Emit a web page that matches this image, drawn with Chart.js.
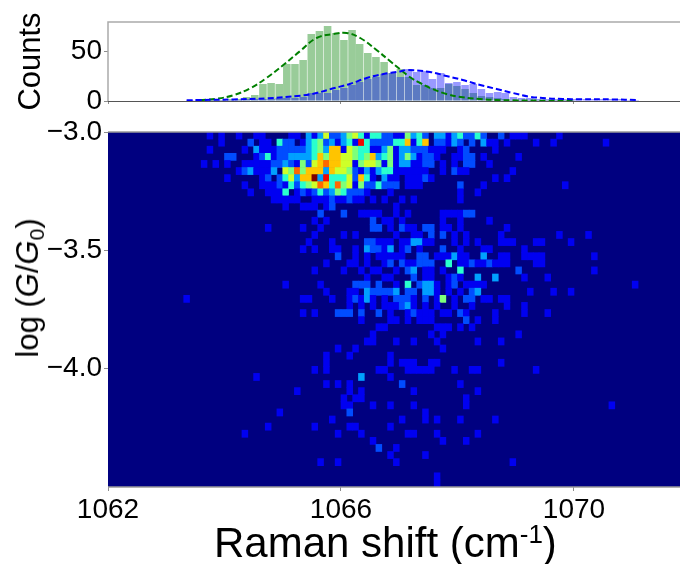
<!DOCTYPE html>
<html>
<head>
<meta charset="utf-8">
<script src="https://cdn.jsdelivr.net/npm/chart.js@4"></script>
<style>
html, body { margin: 0; padding: 0; background: #fff; }
#wrap { position: relative; width: 680px; height: 564px; overflow: hidden; font-family: "Liberation Sans", Arial, sans-serif; color: #000; }
canvas { position: absolute; left: 0; }
#xTitle { position: absolute; left: 214px; top: 519px; font-size: 42px; line-height: 47px; white-space: nowrap; }
#xTitle sup { font-size: 26px; line-height: 0; vertical-align: 14px; }
#yTitle { position: absolute; left: 28px; top: 288px; font-size: 31px; line-height: 36px; white-space: nowrap; transform: translate(-50%, -50%) rotate(-90deg); }
#yTitle sub { font-size: 21px; line-height: 0; vertical-align: -6px; }
</style>
</head>
<body>
<div id="wrap">
	<canvas id="histChart" width="680" height="130" style="top:0"></canvas>
	<canvas id="heatChart" width="680" height="464" style="top:100px"></canvas>
	<div id="yTitle">log (<i>G</i>/<i>G</i><sub>0</sub>)</div>
	<div id="xTitle">Raman shift (cm<sup>-1</sup>)</div>
</div>
<script>
// axis ticks
const xTicks = [1062, 1066, 1070];
const xTickLabels = ['1062', '1066', '1070'];
const countTicks = [0, 50];
const logTicks = [-3, -3.5, -4];
const logTickLabels = ['\u22123.0', '\u22123.5', '\u22124.0'];

// histogram bins (cm-1, bin centre)
const histCentres = [1063.41, 1063.55, 1063.69, 1063.82, 1063.96, 1064.10, 1064.24, 1064.38, 1064.52, 1064.66, 1064.80, 1064.94, 1065.07, 1065.21, 1065.35, 1065.49, 1065.63, 1065.77, 1065.91, 1066.05, 1066.19, 1066.32, 1066.46, 1066.60, 1066.74, 1066.88, 1067.02, 1067.16, 1067.30, 1067.44, 1067.57, 1067.71, 1067.85, 1067.99, 1068.13, 1068.27, 1068.41, 1068.55, 1068.69, 1068.82, 1068.96, 1069.10, 1069.24, 1069.38, 1069.52, 1069.66, 1069.80, 1069.94, 1070.07, 1070.21, 1070.35, 1070.49, 1070.63, 1070.77, 1070.91, 1071.05];
const greenCounts = [0, 0, 0, 1, 1, 2, 2, 4, 6, 17, 18, 17, 37, 37, 41, 67, 70, 75, 68, 61, 71, 57, 48, 44, 39, 28, 32, 24, 16, 16, 13, 13, 17, 15, 12, 8, 5, 4, 3, 2, 1, 1, 1, 1, 1, 1, 1, 1, 0, 0, 0, 0, 0, 0, 0, 0];
const blueCounts = [1, 1, 1, 1, 1, 1, 1, 2, 2, 2, 2, 3, 3, 3, 4, 8, 8, 8, 11, 13, 16, 19, 22, 24, 27, 28, 24, 32, 29, 30, 22, 28, 18, 19, 16, 17, 12, 8, 9, 8, 4, 3, 3, 2, 2, 2, 2, 2, 2, 2, 2, 2, 2, 2, 1, 1];

// dashed fit curves
const greenFitX = [1063.58, 1063.87, 1064.15, 1064.44, 1064.72, 1065.01, 1065.30, 1065.58, 1065.87, 1066.10, 1066.33, 1066.61, 1066.84, 1067.01, 1067.18, 1067.36, 1067.53, 1067.81, 1068.09, 1068.39, 1068.67, 1068.95, 1069.53, 1069.98];
const greenFitY = [1, 2.3, 5.7, 12.7, 23, 36, 50, 63, 67, 68, 63, 51, 40, 32, 24, 18, 13, 7, 3.7, 2, 1, 0.7, 0.3, 0.2];
const blueFitX = [1063.35, 1063.58, 1064.15, 1064.72, 1065.30, 1065.58, 1065.87, 1066.15, 1066.44, 1066.73, 1067.01, 1067.13, 1067.53, 1067.81, 1068.09, 1068.39, 1068.67, 1068.95, 1069.24, 1069.53, 1069.81, 1070.10, 1070.67, 1071.08];
const blueFitY = [0.7, 1, 1.6, 2.7, 5.3, 8, 12.7, 17, 23, 27, 29.5, 31, 29, 25, 21, 16, 12, 8, 4.3, 2.7, 2, 1.7, 1.6, 1];

// 2d histogram, one line per log(G/G0) bin from -3.0 down: bin number, count, bin number, count...
const heatRows = [
	[17,1,19,1,22,1,25,1,26,1,31,1,32,1,34,3,35,1,36,3,37,6,38,2,39,2,40,3,41,5,42,6,43,4,44,1,45,4,46,4,47,2,48,2,49,1,50,1,51,5,52,3,53,4,54,2,56,3,57,3,58,1,59,3,60,4,61,2,62,2,63,4,64,2,67,2,69,1,70,1,71,1,77,1],
	[19,1,24,2,26,1,27,1,29,4,30,2,31,2,33,1,34,3,35,4,36,5,37,2,38,3,39,1,40,3,41,4,42,1,43,9,44,4,45,2,46,2,47,2,48,2,49,4,50,4,51,7,52,1,53,4,54,7,56,2,57,2,58,1,59,3,60,2,62,2,64,3,65,1,66,1,68,1,73,1,76,1,85,1],
	[17,1,23,1,25,3,26,1,27,1,28,1,29,2,30,2,31,2,32,2,33,2,34,3,35,4,36,5,37,3,38,7,39,7,40,1,41,6,42,5,43,4,44,4,45,1,46,1,47,3,48,5,49,1,50,3,51,3,52,2,53,2,54,2,55,1,56,1,57,1,60,1,61,2,66,1],
	[20,2,21,2,25,1,26,2,27,4,28,1,29,2,30,2,31,3,32,3,33,3,34,3,35,4,36,7,37,5,38,7,39,7,40,6,41,6,42,5,43,4,44,5,45,7,46,3,47,4,48,5,49,1,50,3,51,5,52,3,53,1,54,2,55,2,56,1,59,1,60,1,61,2,62,2,64,1,70,1],
	[16,1,18,1,20,1,23,1,24,1,25,1,26,1,27,1,28,2,29,2,30,3,31,2,32,1,33,5,34,2,35,6,36,7,37,8,38,7,39,7,40,6,41,6,42,1,43,5,44,6,45,6,46,5,47,1,48,5,49,1,50,3,51,3,52,1,53,1,54,2,55,2,57,1,59,1,61,2,62,2,65,1],
	[22,1,23,2,24,3,25,1,26,1,27,1,28,3,30,6,31,5,32,8,33,5,34,7,35,7,36,7,37,3,38,7,39,6,40,6,41,5,42,2,43,1,44,3,45,1,46,3,47,4,48,4,49,1,50,1,51,1,52,1,53,1,54,1,57,1,59,2,60,1,61,1,69,1],
	[20,1,26,1,27,2,29,2,30,4,31,6,32,3,33,7,34,7,35,10,36,3,37,9,38,4,39,4,40,4,41,6,42,2,43,7,44,4,45,1,47,3,48,1,49,1,51,1,52,1,53,1,54,2,55,1,66,1,68,1],
	[23,1,26,1,27,1,28,1,29,2,30,1,31,4,32,2,33,4,34,5,35,6,36,8,37,7,38,4,39,8,40,5,41,6,42,1,43,5,44,2,45,2,46,4,47,2,48,2,49,2,51,1,52,1,53,1,60,2,64,1,78,1],
	[24,1,27,1,28,1,29,1,30,4,32,1,33,2,34,1,35,2,36,4,37,2,38,3,39,5,40,4,41,2,42,2,43,2,44,1,48,1,60,1,63,1],
	[28,1,29,1,30,1,31,1,32,1,35,1,36,1,37,1,38,2,39,1,40,1,41,2,42,1,43,1,45,1,47,1,50,1,52,1,60,1],
	[30,1,33,1,34,1,35,1,37,1,38,2,49,1],
	[36,2,40,2,43,1,44,1,45,1,46,1,49,1,51,1,57,1,58,1,59,1,60,1,61,2,62,2],
	[35,1,37,1,45,2,47,1,48,1,50,1,57,1,60,1,65,1],
	[27,1,33,1,36,1,45,2,46,2,48,1,50,2,51,1,52,1,54,2,55,2,57,1,58,1,60,1,68,1],
	[35,1,40,1,42,1,49,1,52,1,53,1,55,2,57,2,59,1,61,1,67,1,77,1,82,1],
	[34,1,38,1,44,2,45,2,46,1,47,1,48,1,50,1,51,1,52,3,53,3,54,1,55,1,59,1,61,1,63,1,67,1,68,1,69,1,73,1,74,1,79,1],
	[33,1,35,1,38,1,39,1,42,1,44,3,45,2,46,2,47,1,48,3,50,1,51,2,53,1,57,2,60,1,64,1,65,1,71,1],
	[39,2,42,1,44,1,46,1,47,1,48,1,49,1,50,1,53,2,54,2,56,1,57,1,58,1,59,3,60,1,61,1,64,3,67,1,68,1,71,1,72,1,73,1,74,1,83,1],
	[37,1,41,1,42,1,44,1,47,1,48,2,50,2,51,1,52,1,53,2,54,2,55,2,58,4,60,1,61,1,62,2,63,1,64,1,65,2,66,1,67,1,68,1,73,1,74,1],
	[35,1,40,1,43,1,45,1,46,1,49,1,51,2,52,3,54,1,55,1,57,1,60,4,70,2,83,1],
	[44,1,47,1,48,1,52,2,54,1,55,1,58,1,59,2,60,1,63,3,66,3,71,1,75,1],
	[30,1,36,1,42,2,43,2,44,2,46,2,49,1,51,4,53,2,54,3,55,3,56,1,58,1,59,2,61,1,62,1,63,1,64,1,90,1],
	[37,1,41,1,42,1,44,3,45,2,46,2,47,2,48,2,49,3,51,2,52,2,54,3,55,3,56,1,58,1,60,1,62,2,63,3,72,1,76,1,79,1],
	[13,1,33,1,34,1,38,1,41,1,42,2,43,1,44,3,45,1,47,1,49,2,50,2,51,2,52,1,54,2,56,1,57,5,59,1,61,2,62,2,64,1,65,1,67,1,68,1],
	[41,1,43,1,45,1,47,1,48,1,49,1,50,2,51,3,52,1,54,1,56,1,59,1,62,1,68,1,71,1],
	[33,1,35,1,39,2,40,2,41,2,43,2,46,2,48,1,51,1,52,2,53,1,54,1,55,1,57,1,58,1,60,2,61,1,66,1,71,1,75,1],
	[43,1,48,1,49,1,51,1,53,1,54,1,55,1,61,2,63,1,66,1],
	[46,1,47,1,56,1,57,1,58,1,60,1,62,1],
	[45,1,55,1,57,1,70,1],
	[44,1,45,1,49,1,52,1,56,1,63,1,67,1],
	[39,1,42,1,57,1],
	[37,1,41,1,48,1],
	[37,1,48,1,50,1,51,1,52,1,55,1,56,1,67,1],
	[35,1,37,1,46,1,47,1,51,1,52,1,53,1,54,1,55,1,59,1,62,1,63,1,73,1],
	[25,1,43,3,48,1],
	[37,1,39,1,41,1,50,2,60,1],
	[32,1,41,1,43,1,52,1,63,1],
	[40,1,42,1,43,1,61,1],
	[40,1,41,1,45,1,48,1,52,1,61,1,86,1],
	[29,1,41,2,54,1],
	[38,1,50,1,54,1,56,1,60,1,66,1],
	[27,1,35,1,41,1,42,1,48,1],
	[23,1,39,1,43,1,51,1,52,1,56,1,63,1],
	[45,1,57,1,61,1],
	[46,2,49,1],
	[48,1,54,1],
	[36,1,39,1,49,1,69,1],
	[],
	[56,1],
	[56,1]
];
const jetColors = ['#00007f', '#0000f1', '#004cff', '#00a0ff', '#29ffce', '#7dff7a', '#ceff29', '#ffc400', '#ff6800', '#f10800', '#7f0000'];

const xMin = 1062;
const xMax = 1071.82;
const xBin = 0.1;
const logBin = 0.03;

// 固定軸的寬度, 讓兩張圖的繪圖區對齊
function fixWidth(scale) { scale.width = 108; }

function zip(xs, ys) {
	return xs.map((x, i) => ({ x: x, y: ys[i] }));
}

const axisGray = '#8c8c8c';

// 上方直方圖的外框
const histFrame = {
	id: 'histFrame',
	afterDraw(chart) {
		const a = chart.chartArea;
		const c = chart.ctx;
		c.save();
		c.strokeStyle = '#aaaaaa';
		c.lineWidth = 1.5;
		c.beginPath();
		c.moveTo(a.left, a.bottom);
		c.lineTo(a.left, a.top);
		c.lineTo(a.right, a.top);
		c.stroke();
		c.strokeStyle = '#555555';
		c.lineWidth = 1;
		c.beginPath();
		c.moveTo(a.left, a.bottom + 0.5);
		c.lineTo(a.right, a.bottom + 0.5);
		c.stroke();
		c.restore();
	}
};

new Chart(document.getElementById('histChart'), {
	type: 'bar',
	data: {
		datasets: [
			{ type: 'line', data: zip(blueFitX, blueFitY), borderColor: '#0000ff', borderWidth: 2, borderDash: [6, 3], pointRadius: 0, tension: 0.4, order: 1 },
			{ type: 'line', data: zip(greenFitX, greenFitY), borderColor: '#008000', borderWidth: 2, borderDash: [6, 3], pointRadius: 0, tension: 0.4, order: 2 },
			{ data: zip(histCentres, blueCounts), backgroundColor: 'rgba(0,0,255,0.4)', barPercentage: 1, categoryPercentage: 1, grouped: false, inflateAmount: 0, order: 3 },
			{ data: zip(histCentres, greenCounts), backgroundColor: 'rgba(0,128,0,0.4)', barPercentage: 1, categoryPercentage: 1, grouped: false, inflateAmount: 0, order: 4 }
		]
	},
	options: {
		responsive: false,
		animation: false,
		devicePixelRatio: 1,
		layout: { padding: { top: 22, right: 0, left: 0, bottom: 0 } },
		plugins: { legend: { display: false }, tooltip: { enabled: false } },
		scales: {
			x: {
				type: 'linear', min: xMin, max: xMax, offset: false,
				afterBuildTicks(scale) { scale.ticks = xTicks.map(v => ({ value: v })); },
				afterFit(scale) { scale.height = 29; },
				ticks: { display: false },
				grid: { drawOnChartArea: false, offset: false, tickLength: 3, color: axisGray },
				border: { display: false }
			},
			y: {
				min: 0, max: 79,
				afterBuildTicks(scale) { scale.ticks = countTicks.map(v => ({ value: v })); },
				afterFit: fixWidth,
				ticks: { color: '#000', font: { family: 'Liberation Sans', size: 28 }, padding: 2, callback: v => String(v) },
				grid: { drawOnChartArea: false, tickLength: 4, color: axisGray },
				border: { display: false },
				title: { display: true, text: 'Counts', color: '#000', font: { family: 'Liberation Sans', size: 31 }, padding: { top: 13, bottom: 0 } }
			}
		}
	},
	plugins: [histFrame]
});

// 熱圖: 每個格子一根浮動長條
let heatData = [];
let heatColors = [];
for (let r = 0; r < heatRows.length; r++) {
	const row = heatRows[r];
	for (let i = 0; i < row.length; i += 2) {
		heatData.push({
			x: xMin + (row[i] + 0.5) * xBin,
			y: [-3 - (r + 1) * logBin, -3 - r * logBin]
		});
		heatColors.push(jetColors[row[i + 1]]);
	}
}

// 沒有計數的格子就是底色
const heatBackground = {
	id: 'heatBackground',
	beforeDatasetsDraw(chart) {
		const a = chart.chartArea;
		chart.ctx.save();
		chart.ctx.fillStyle = '#000080';
		chart.ctx.fillRect(a.left, a.top, a.width, a.height);
		chart.ctx.restore();
	},
	afterDraw(chart) {
		const a = chart.chartArea;
		const c = chart.ctx;
		c.save();
		c.strokeStyle = '#999999';
		c.lineWidth = 1.5;
		c.beginPath();
		c.moveTo(a.left, a.top);
		c.lineTo(a.right, a.top);
		c.moveTo(a.left, a.bottom);
		c.lineTo(a.right, a.bottom);
		c.stroke();
		c.restore();
	}
};

new Chart(document.getElementById('heatChart'), {
	type: 'bar',
	data: {
		datasets: [{
			data: heatData,
			backgroundColor: heatColors,
			barPercentage: 1,
			categoryPercentage: 1,
			grouped: false
		}]
	},
	options: {
		responsive: false,
		animation: false,
		devicePixelRatio: 1,
		layout: { padding: { top: 32, right: 0, left: 0, bottom: 0 } },
		plugins: { legend: { display: false }, tooltip: { enabled: false } },
		scales: {
			x: {
				type: 'linear', min: xMin, max: xMax, offset: false,
				afterBuildTicks(scale) { scale.ticks = xTicks.map(v => ({ value: v })); },
				afterFit(scale) { scale.height = 77; },
				ticks: {
					color: '#000', font: { family: 'Liberation Sans', size: 28 }, padding: 2, maxRotation: 0,
					callback: v => xTickLabels[xTicks.indexOf(v)]
				},
				grid: { drawOnChartArea: false, offset: false, tickLength: 4, color: axisGray },
				border: { display: false }
			},
			y: {
				min: -4.5, max: -3,
				afterBuildTicks(scale) { scale.ticks = logTicks.map(v => ({ value: v })); },
				afterFit: fixWidth,
				ticks: {
					color: '#000', font: { family: 'Liberation Sans', size: 28 }, padding: 2,
					callback: v => logTickLabels[logTicks.indexOf(v)]
				},
				grid: { drawOnChartArea: false, tickLength: 4, color: axisGray },
				border: { display: false }
			}
		}
	},
	plugins: [heatBackground]
});
</script>
</body>
</html>
